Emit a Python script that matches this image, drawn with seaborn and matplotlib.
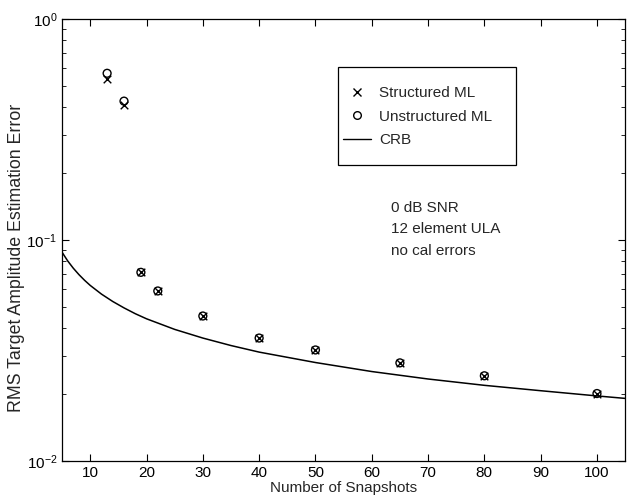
import numpy as np
import pandas as pd
import matplotlib
matplotlib.use("Agg")
import matplotlib.pyplot as plt
from matplotlib.lines import Line2D
from matplotlib.patches import Rectangle
import seaborn as sns

# ---- data ----
snapshots = [13, 16, 19, 22, 30, 40, 50, 65, 80, 100]
structured_ml = [0.535, 0.41, 0.0714, 0.0588, 0.0453, 0.0360, 0.0318, 0.0278, 0.0243, 0.0202]
unstructured_ml = [0.568, 0.425, 0.0714, 0.0588, 0.0453, 0.0360, 0.0318, 0.0278, 0.0243, 0.0202]

crb_n = [5, 6, 7, 8, 9, 10, 12, 14, 16, 18, 20, 25, 30, 35, 40, 50, 60, 70, 80, 90, 100, 105]
crb_val = [0.0880, 0.0804, 0.0745, 0.0697, 0.0657, 0.0623, 0.0569, 0.0527, 0.0493,
           0.0464, 0.0440, 0.0394, 0.0360, 0.0333, 0.0311, 0.0279, 0.0254, 0.0235,
           0.0220, 0.0208, 0.0197, 0.0192]

xticks = [10, 20, 30, 40, 50, 60, 70, 80, 90, 100]
legend_labels = ["Structured ML", "Unstructured ML", "CRB"]
annotation = ["0 dB SNR", "12 element ULA", "no cal errors"]

sns.set_style("ticks")
plt.rcParams["font.family"] = ["Liberation Sans", "DejaVu Sans"]
plt.rcParams["mathtext.fontset"] = "custom"
plt.rcParams["mathtext.rm"] = "Liberation Sans"
plt.rcParams["mathtext.it"] = "Liberation Sans"

fig = plt.figure(figsize=(6.27, 5.0), dpi=100)
ax = fig.add_axes([0.099, 0.078, 0.898, 0.884])

df_crb = pd.DataFrame({"n": crb_n, "v": crb_val})
df_pts = pd.DataFrame({"n": snapshots, "s": structured_ml, "u": unstructured_ml})

sns.lineplot(data=df_crb, x="n", y="v", ax=ax, color="black", linewidth=1.1)
sns.scatterplot(data=df_pts, x="n", y="s", ax=ax, marker="x", color="black",
                s=30, linewidth=1.0)
sns.scatterplot(data=df_pts, x="n", y="u", ax=ax, marker="o", facecolor="none",
                edgecolor="black", s=32, linewidth=1.0)

ax.set_yscale("log")
ax.set_xlim(5, 105)
ax.set_ylim(1e-2, 1e0)
ax.set_xticks(xticks)
ax.set_xticklabels([str(t) for t in xticks])
ax.set_yticks([1e-2, 1e-1, 1e0])
ax.set_yticklabels([r"$10^{-2}$", r"$10^{-1}$", r"$10^{0}$"])

ax.tick_params(axis="both", which="both", direction="in", top=True, right=True,
               labelsize=11, colors="black")
ax.tick_params(axis="both", which="major", length=5, width=0.8)
ax.tick_params(axis="y", which="minor", length=3, width=0.6)
for s in ax.spines.values():
    s.set_linewidth(0.9)
    s.set_color("black")

ax.set_xlabel("Number of Snapshots", fontsize=11, labelpad=1)
ax.set_ylabel("RMS Target Amplitude Estimation Error", fontsize=12.8)
ax.yaxis.set_label_coords(-0.066, 0.46)

# legend frame drawn separately to match the reference padding
ax.add_patch(Rectangle((0.490, 0.670), 0.316, 0.221, transform=ax.transAxes,
                       fill=True, facecolor="white", edgecolor="black",
                       linewidth=0.9, zorder=4))
handles = [
    Line2D([], [], marker="x", linestyle="none", color="black", markersize=5.5, markeredgewidth=1.0),
    Line2D([], [], marker="o", linestyle="none", markerfacecolor="none",
           markeredgecolor="black", markersize=5.5, markeredgewidth=1.0),
    Line2D([], [], color="black", linewidth=1.0),
]
leg = ax.legend(handles, legend_labels,
                loc="upper left", bbox_to_anchor=(0.499, 0.848), fontsize=11,
                frameon=False, borderpad=0, labelspacing=0.62,
                handlelength=1.85, handletextpad=0.5, borderaxespad=0)
leg.set_zorder(5)

for i, t in enumerate(annotation):
    ax.text(0.585, 0.572 - i * 0.048, t, transform=ax.transAxes, fontsize=11,
            ha="left", va="center")

fig.savefig("out.png", dpi=100)
